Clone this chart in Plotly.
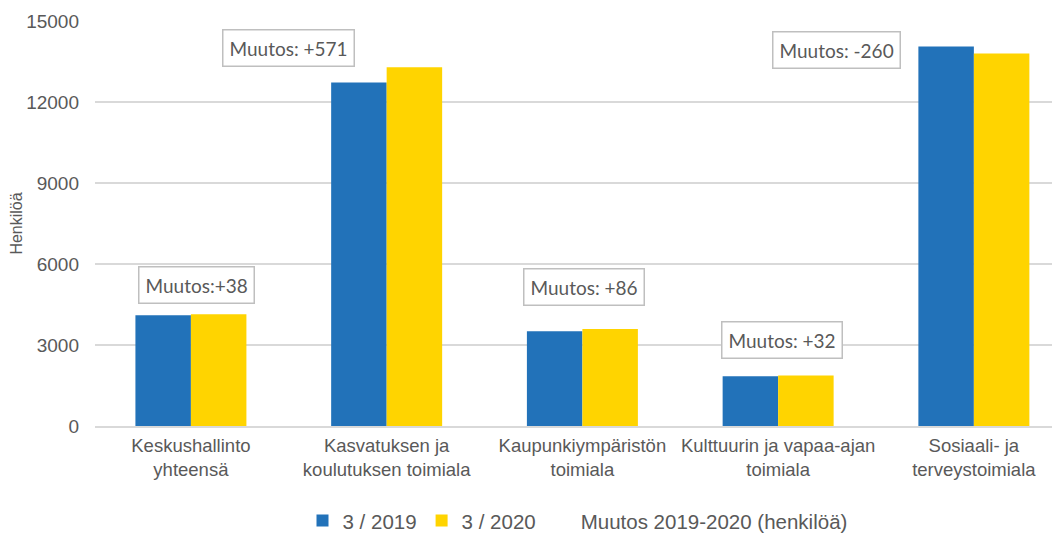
import plotly.graph_objects as go

categories = [
    "Keskushallinto<br>yhteensä",
    "Kasvatuksen ja<br>koulutuksen toimiala",
    "Kaupunkiympäristön<br>toimiala",
    "Kulttuurin ja vapaa-ajan<br>toimiala",
    "Sosiaali- ja<br>terveystoimiala",
]
values_2019 = [4100, 12720, 3510, 1840, 14060]
values_2020 = [4138, 13291, 3596, 1872, 13800]
change_labels = ["Muutos:+38", "Muutos: +571", "Muutos: +86", "Muutos: +32", "Muutos: -260"]
y_ticks = [0, 3000, 6000, 9000, 12000, 15000]

# label box placement (layout only)
label_x_shift = [0.03, -0.5, 0.01, 0.02, -0.7]
label_y = [5220, 13990, 5140, 3180, 13910]

BLUE = "#2272B9"
YELLOW = "#FFD400"
GRAY_TXT = "#595959"
GRID = "#D9D9D9"
FONT = "Liberation Sans, Arial, sans-serif"

fig = go.Figure()
fig.add_trace(go.Bar(x=list(range(len(categories))), y=values_2019, name="3 / 2019",
                     marker=dict(color=BLUE, line=dict(width=0))))
fig.add_trace(go.Bar(x=list(range(len(categories))), y=values_2020, name="3 / 2020",
                     marker=dict(color=YELLOW, line=dict(width=0))))
fig.add_trace(go.Scatter(x=[None], y=[None], mode="markers", name="Muutos 2019-2020 (henkilöä)",
                         marker=dict(color="rgba(0,0,0,0)", size=1), showlegend=True))

for i, txt in enumerate(change_labels):
    fig.add_annotation(
        x=i + label_x_shift[i], y=label_y[i], xref="x", yref="y",
        text=txt, showarrow=False,
        font=dict(family="Lato, Carlito, sans-serif", size=19, color=GRAY_TXT),
        bordercolor="#BFBFBF", borderwidth=1.5, borderpad=6, bgcolor="white",
    )

fig.update_layout(
    width=1052, height=527,
    margin=dict(l=87, r=0, t=13, b=109, autoexpand=False),
    paper_bgcolor="white", plot_bgcolor="white",
    barmode="group", bargap=0.433, bargroupgap=0,
    font=dict(family=FONT, size=18, color=GRAY_TXT),
    legend=dict(orientation="h", x=0.5, xanchor="center", y=-0.234, yanchor="middle",
                font=dict(family=FONT, size=20.5, color=GRAY_TXT), itemwidth=30,
                traceorder="normal"),
    showlegend=True,
)
fig.update_xaxes(
    tickmode="array", tickvals=list(range(len(categories))), ticktext=categories,
    range=[-0.49, 4.44], showgrid=False, zeroline=False, automargin=False,
    showline=True, linecolor=GRID, linewidth=2,
    tickfont=dict(family=FONT, size=18.5, color=GRAY_TXT), ticklabelstandoff=2,
)
fig.update_yaxes(
    range=[0, 15000], tickvals=y_ticks, ticktext=[str(v) for v in y_ticks],
    showgrid=True, gridcolor=GRID, gridwidth=1.5, zeroline=False, showline=False,
    automargin=False,
    tickfont=dict(family=FONT, size=19, color=GRAY_TXT), ticklabelstandoff=15,
    title=dict(text="Henkilöä", font=dict(family=FONT, size=16, color=GRAY_TXT), standoff=4),
)

fig.write_html("out.html")
